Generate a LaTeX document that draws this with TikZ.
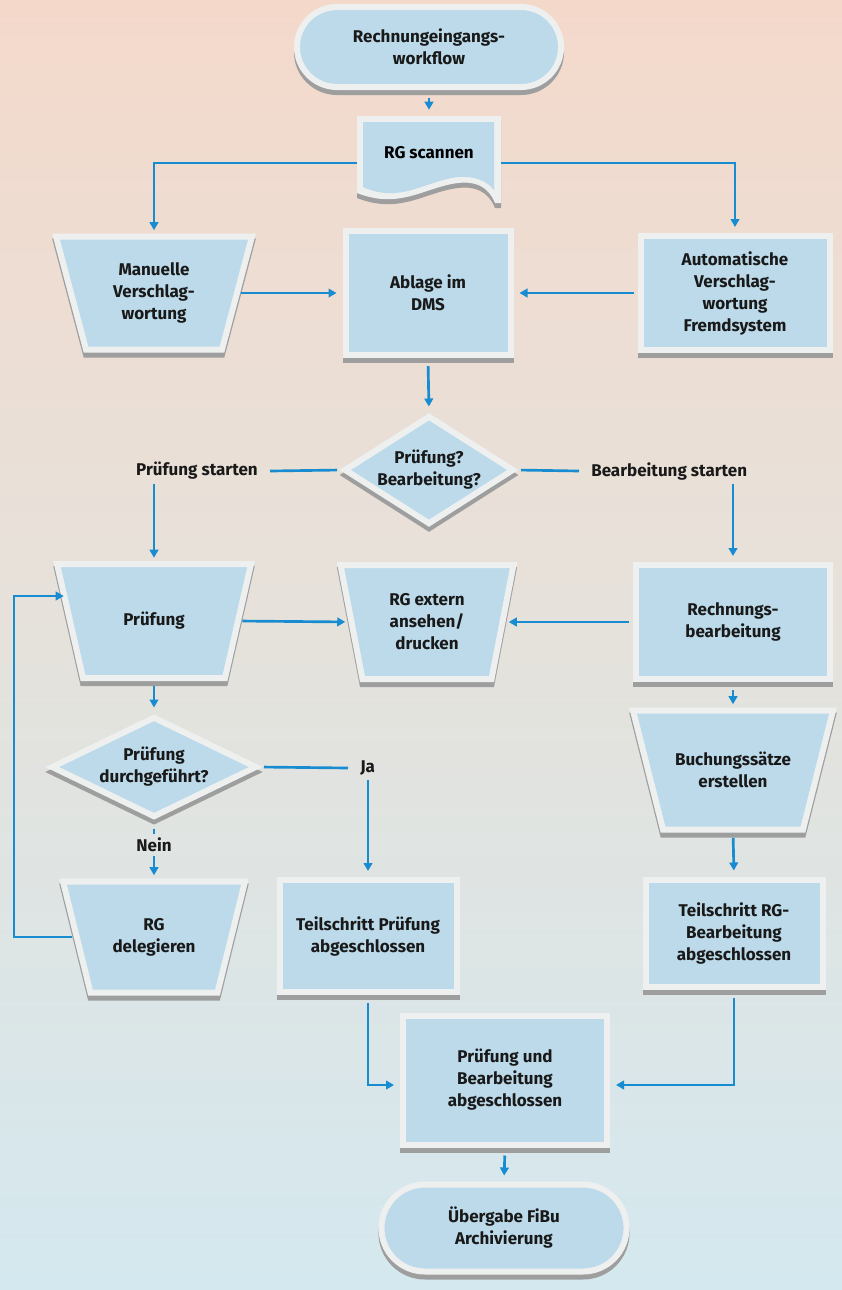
\documentclass[tikz,border=0pt]{standalone}
\usepackage{fontspec}
\setmainfont{Fira Sans}
\usetikzlibrary{shapes.geometric,shapes.misc,arrows.meta}
\definecolor{bgtop}{RGB}{244,217,203}
\definecolor{bgmid}{RGB}{229,226,220}
\definecolor{bgbot}{RGB}{212,232,239}
\definecolor{boxfill}{RGB}{188,218,234}
\definecolor{boxedge}{RGB}{238,240,240}
\definecolor{shadowgrey}{RGB}{158,158,158}
\definecolor{arrowblue}{RGB}{24,140,208}
% manuelle Operation: Name, x, y, mittlere Breite, Hoehe, Schraege, Text (Masse in px)
\newcommand\handop[7]{%
	\path[box] ({#2-(#4+#6)/2},{#3-#5/2}) -- ({#2+(#4+#6)/2},{#3-#5/2}) -- ({#2+(#4-#6)/2},{#3+#5/2})
		-- ({#2-(#4-#6)/2},{#3+#5/2}) -- cycle;
	\node[align=center,text=black!90,minimum width={#4*0.75pt},minimum height={#5*0.75pt}] (#1) at (#2,#3) {#7};}
% Dokument-Umriss (aussen)
\newcommand\docouter{(357,116) -- (501,116) -- (501,203) -- (495,203) .. controls (488,186) and (475,181) .. (458,183)
	.. controls (425,187) and (400,210) .. (357,193) -- cycle}
\begin{document}
\begin{tikzpicture}[x=0.75pt,y=-0.75pt,>={Triangle[length=6pt,width=6.5pt]},
	font=\fontsize{12.75}{16.5}\selectfont\bfseries,
	box/.style={fill=boxfill,draw=boxedge,line width=4.5pt,align=center,text=black!90,
		preaction={fill=shadowgrey,draw=shadowgrey,line width=4.5pt,transform canvas={yshift=-3.75pt}}},
	term/.style={box,rounded rectangle},
	proc/.style={box,rectangle},
	decision/.style={box,diamond,inner sep=0pt},
	lbl/.style={inner xsep=9pt,inner ysep=3pt,text=black!90},
	conn/.style={arrowblue,line width=2pt,shorten <=3pt,shorten >=4.5pt}]
	\fill[top color=bgtop,bottom color=bgbot,middle color=bgmid] (0,0) rectangle (842,1290);
	\useasboundingbox (0,0) rectangle (842,1290);
	% Start und Scan
	\node[term,minimum width=204.75pt,minimum height=60pt] (start) at (429,47) {Rechnungeingangs-\\workflow};
	\fill[shadowgrey,shift={(0,5)}] \docouter;
	\fill[boxedge] \docouter;
	\fill[boxfill] (363,122) -- (494,122) -- (494,190) .. controls (486,180) and (474,176) .. (458,177)
		.. controls (425,181) and (400,204) .. (363,187) -- cycle;
	\node[minimum width=108pt,minimum height=55.5pt] (scan) at (429,153) {RG scannen};
	% Verschlagwortung
	\handop{manual}{154}{293}{166}{113}{30}{Manuelle\\Verschlag-\\wortung}
	\node[proc,minimum width=123.75pt,minimum height=93pt] (dms) at (428,293) {Ablage im\\DMS};
	\node[proc,minimum width=141.75pt,minimum height=85.5pt] (auto) at (735,293) {Automatische\\Verschlag-\\wortung\\Fremdsystem};
	\node[decision,aspect=1.56,minimum width=127.5pt,minimum height=81.75pt] (check) at (429,470) {Prüfung?\\Bearbeitung?};
	\node[lbl,anchor=east] (startP) at (270,471) {Prüfung starten};
	\node[lbl,anchor=west] (startB) at (579,471) {Bearbeitung starten};
	% Pruefung / Bearbeitung
	\handop{pruef}{154}{621}{168}{114}{26}{Prüfung}
	\handop{extern}{427}{622}{151}{114}{22}{RG extern\\ansehen/\\drucken}
	\node[proc,minimum width=145.5pt,minimum height=85.5pt] (rech) at (733,622) {Rechnungs-\\bearbeitung};
	\node[decision,aspect=2.04,minimum width=154.5pt,minimum height=75.75pt] (done) at (154,767) {Prüfung\\durchgeführt?};
	\node[lbl,anchor=west] (ja) at (348,768) {Ja};
	\node[lbl] (nein) at (154,845) {Nein};
	\handop{deleg}{154}{937}{154.5}{111}{27.5}{RG\\delegieren}
	\node[proc,minimum width=132.75pt,minimum height=84pt] (tpruef) at (368,936) {Teilschritt Prüfung\\abgeschlossen};
	\handop{buch}{733}{770}{170}{119}{30}{Buchungssätze\\erstellen}
	\node[proc,minimum width=132.75pt,minimum height=80.25pt] (tbearb) at (734,933) {Teilschritt RG-\\Bearbeitung\\abgeschlossen};
	% Abschluss
	\node[proc,minimum width=153pt,minimum height=96.75pt] (fertig) at (505,1080) {Prüfung und\\Bearbeitung\\abgeschlossen};
	\node[term,minimum width=190.5pt,minimum height=65.25pt] (ende) at (504,1228) {Übergabe FiBu\\Archivierung};
	\coordinate (loop) at (14,937);
	% Verbindungen
	\draw[conn,->,shorten <=6pt] (start.south) -- (scan.north);
	\draw[conn,->,shorten <=0pt] ([yshift=-7.5pt]scan.west) -| (manual.north);
	\draw[conn,->,shorten <=0pt] ([yshift=-7.5pt]scan.east) -| (auto.north);
	\draw[conn,->] (manual.east) -- (dms.west);
	\draw[conn,->] (auto.west) -- (dms.east);
	\draw[conn,->,shorten <=6pt] (dms.south) -- (check.north);
	\draw[conn,shorten >=0pt] (check.west) -- (startP.east);
	\draw[conn,shorten >=0pt] (check.east) -- (startB.west);
	\draw[conn,->,shorten <=0pt] (startP.south -| pruef.north) -- (pruef.north);
	\draw[conn,->,shorten <=0pt] (startB.south -| rech.north) -- (rech.north);
	\draw[conn,->] (pruef.east) -- (extern.west);
	\draw[conn,->] (rech.west) -- (extern.east);
	\draw[conn,->,shorten <=6pt] (rech.south) -- (buch.north);
	\draw[conn,->,shorten <=6pt] (pruef.south) -- (done.north);
	\draw[conn,shorten >=0pt] (done.east) -- (ja.west);
	\draw[conn,->,shorten <=0pt] (ja.south -| tpruef.north) -- (tpruef.north);
	\draw[conn,shorten <=6pt,shorten >=0pt] (done.south) -- (nein.north);
	\draw[conn,->,shorten <=0pt] (nein.south) -- (deleg.north);
	\draw[conn,->] (deleg.west) -- (loop) |- ([yshift=18.75pt]pruef.west);
	\draw[conn,->,shorten <=6pt] (buch.south) -- (tbearb.north);
	\draw[conn,->,shorten <=6pt] (tpruef.south) |- ([yshift=-3.75pt]fertig.west);
	\draw[conn,->,shorten <=6pt] (tbearb.south) |- ([yshift=-3.75pt]fertig.east);
	\draw[conn,->,shorten <=6pt] (fertig.south) -- (ende.north);
\end{tikzpicture}
\end{document}
